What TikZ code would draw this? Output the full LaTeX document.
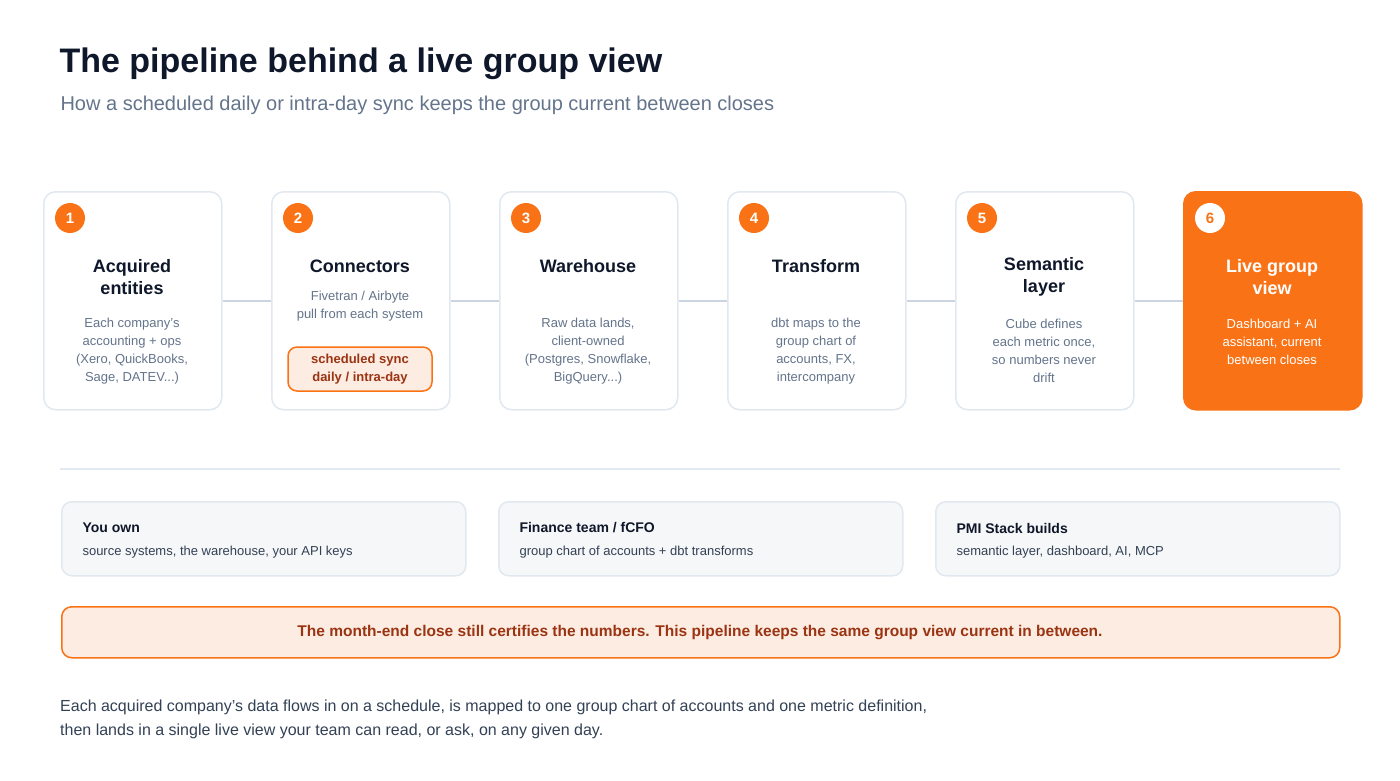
\documentclass[tikz,border=0pt]{standalone}
\usepackage{fontspec}
\setmainfont{Liberation Sans}
\begin{document}
\definecolor{org}{HTML}{F97316}
\definecolor{orgd}{HTML}{9A3412}
\definecolor{peach}{HTML}{FDECE2}
\definecolor{ink}{HTML}{0F172A}
\definecolor{slate}{HTML}{64748B}
\definecolor{bord}{HTML}{E2E8F0}
\definecolor{lnk}{HTML}{CBD5E1}
\definecolor{body}{HTML}{334155}
\begin{tikzpicture}[x=1pt,y=-1pt,
 card/.style={draw=bord,line width=1.5pt,fill=white,rounded corners=12pt,minimum width=178pt,minimum height=218pt,anchor=north west},
 badge/.style={circle,fill=org,text=white,font=\bfseries\fontsize{15}{15}\selectfont,minimum size=30pt,inner sep=0pt},
 ttl/.style={font=\bfseries\fontsize{18}{22}\selectfont,text=ink,align=center},
 dsc/.style={font=\fontsize{13}{18}\selectfont,text=slate,align=center},
 link/.style={draw=lnk,line width=2pt},
 own/.style={draw=bord,line width=1.5pt,fill=slate!6,rounded corners=10pt,minimum width=404pt,minimum height=74pt,anchor=north west},
 ownh/.style={font=\bfseries\fontsize{14}{16}\selectfont,text=ink,anchor=west},
 ownt/.style={font=\fontsize{13}{16}\selectfont,text=body,anchor=west}]
\useasboundingbox (0,0) rectangle (1400,780);
\fill[white] (0,0) rectangle (1400,780);
\node[anchor=west,font=\bfseries\fontsize{34}{38}\selectfont,text=ink] (title) at (56,64) {The pipeline behind a live group view};
\node[anchor=west,font=\fontsize{20}{24}\selectfont,text=slate] (sub) at (57,105) {How a scheduled daily or intra-day sync keeps the group current between closes};
% cards
\node[card] (c1) at (43,191) {};
\node[card] (c2) at (271,191) {};
\node[card] (c3) at (499,191) {};
\node[card] (c4) at (727,191) {};
\node[card] (c5) at (955,191) {};
\node[card,draw=org,fill=org] (c6) at (1183,191) {};
\draw[link] (c1.east) -- (c2.west);
\draw[link] (c2.east) -- (c3.west);
\draw[link] (c3.east) -- (c4.west);
\draw[link] (c4.east) -- (c5.west);
\draw[link] (c5.east) -- (c6.west);
\node[badge] (b1) at (70,218) {1};
\node[badge] (b2) at (298,218) {2};
\node[badge] (b3) at (526,218) {3};
\node[badge] (b4) at (754,218) {4};
\node[badge] (b5) at (982,218) {5};
\node[badge,fill=white,text=org] (b6) at (1210,218) {6};
\node[ttl] (t1) at (132,277) {Acquired\\entities};
\node[ttl] (t2) at (360,266) {Connectors};
\node[ttl] (t3) at (588,266) {Warehouse};
\node[ttl] (t4) at (816,266) {Transform};
\node[ttl] (t5) at (1044,277) {Semantic\\layer};
\node[ttl,text=white] (t6) at (1272,277) {Live group\\view};
\node[dsc] (d1) at (132,351) {Each company's\\accounting + ops\\(Xero, QuickBooks,\\Sage, DATEV...)};
\node[dsc] (d2) at (360,306) {Fivetran / Airbyte\\pull from each system};
\node[dsc] (d3) at (588,351) {Raw data lands,\\client-owned\\(Postgres, Snowflake,\\BigQuery...)};
\node[dsc] (d4) at (816,351) {dbt maps to the\\group chart of\\accounts, FX,\\intercompany};
\node[dsc] (d5) at (1044,351) {Cube defines\\each metric once,\\so numbers never\\drift};
\node[dsc,text=white] (d6) at (1272,342) {Dashboard + AI\\assistant, current\\between closes};
\node[draw=org,line width=1.5pt,fill=peach,rounded corners=9pt,minimum width=144pt,minimum height=44pt,font=\bfseries\fontsize{13}{18}\selectfont,text=orgd,align=center] (sync) at (360,369) {scheduled sync\\daily / intra-day};
% separator
\draw[draw=bord,line width=1.5pt] (60,469) coordinate (s1) -- (1340,469) coordinate (s2);
% ownership
\node[own] (o1) at (61,501) {};
\node[own] (o2) at (498,501) {};
\node[own] (o3) at (935,501) {};
\node[ownh] (h1) at (79,528) {You own};
\node[ownt] (p1) at (79,552) {source systems, the warehouse, your API keys};
\node[ownh] (h2) at (516,528) {Finance team / fCFO};
\node[ownt] (p2) at (516,552) {group chart of accounts + dbt transforms};
\node[ownh] (h3) at (953,528) {PMI Stack builds};
\node[ownt] (p3) at (953,552) {semantic layer, dashboard, AI, MCP};
% banner
\node[draw=org,line width=1.5pt,fill=peach,rounded corners=10pt,minimum width=1278pt,minimum height=51pt,anchor=north west] (ban) at (61,606) {};
\node[font=\bfseries\fontsize{15.5}{18}\selectfont,text=orgd] (bt) at (700,633) {The month-end close still certifies the numbers. This pipeline keeps the same group view current in between.};
\node[anchor=north west,align=left,font=\fontsize{16}{24}\selectfont,text=body,inner sep=0pt] (foot) at (60,700) {Each acquired company's data flows in on a schedule, is mapped to one group chart of accounts and one metric definition,\\then lands in a single live view your team can read, or ask, on any given day.};
\end{tikzpicture}
\end{document}
